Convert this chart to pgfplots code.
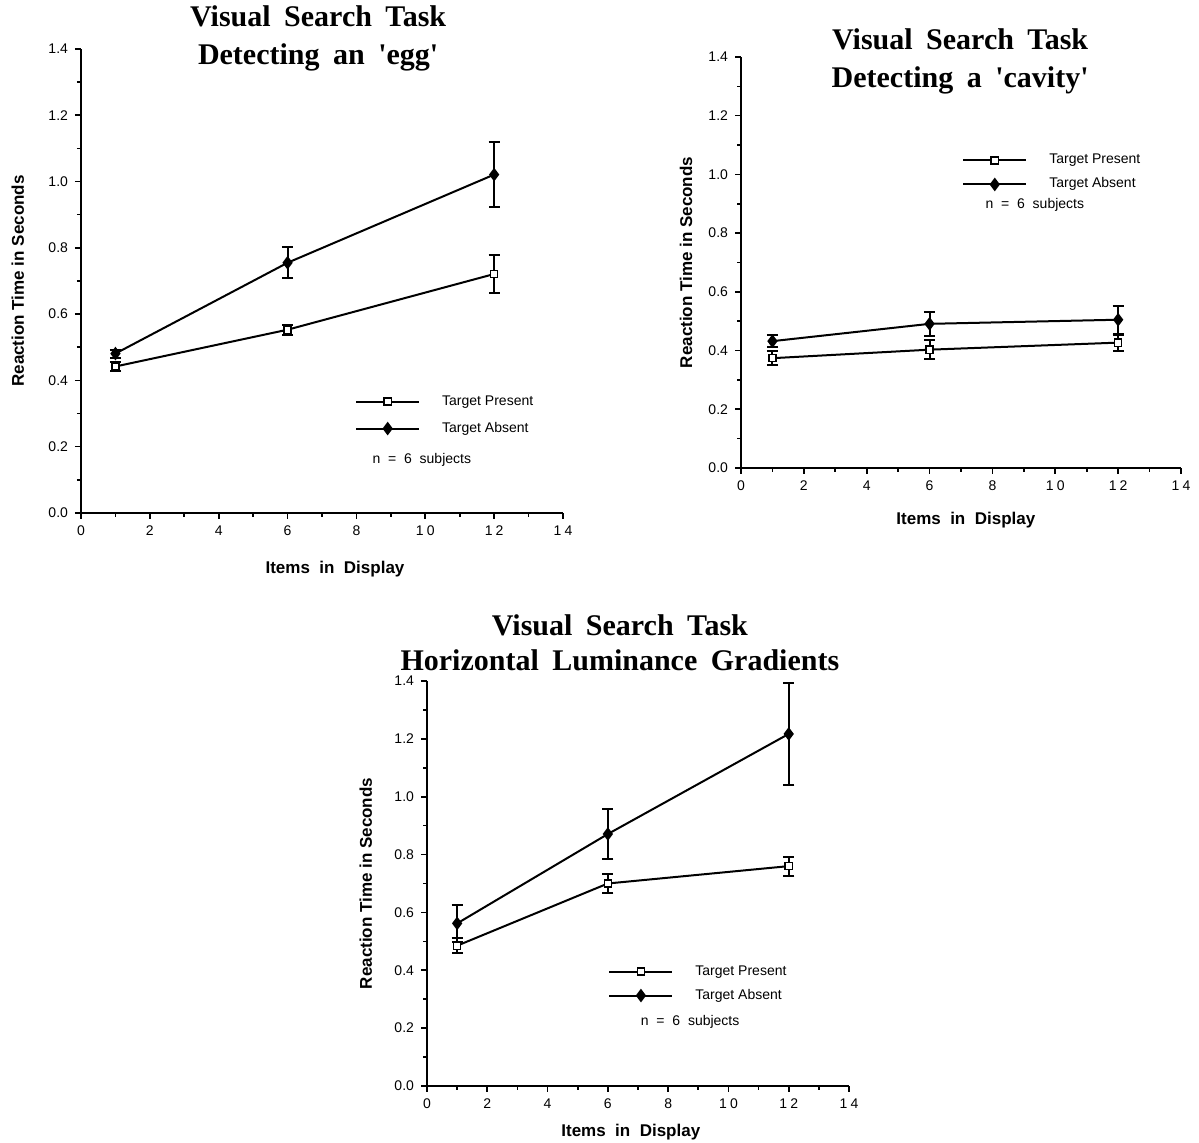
\documentclass[border=0pt]{standalone}
\usepackage{fontspec}
\setmainfont{Liberation Serif}
\setsansfont{Liberation Sans}
\usepackage{pgfplots}
\pgfplotsset{compat=1.18}
\usepackage{pgfplotstable}

\pgfplotstableread{
x y e
1 0.442 0.015
6 0.553 0.015
12 0.721 0.056
}\eggP
\pgfplotstableread{
x y e
1 0.481 0.012
6 0.755 0.047
12 1.021 0.097
}\eggA
\pgfplotstableread{
x y e
1 0.374 0.023
6 0.403 0.033
12 0.427 0.027
}\cavP
\pgfplotstableread{
x y e
1 0.432 0.020
6 0.491 0.041
12 0.505 0.048
}\cavA
\pgfplotstableread{
x y e
1 0.485 0.026
6 0.700 0.034
12 0.760 0.033
}\lumP
\pgfplotstableread{
x y e
1 0.562 0.063
6 0.871 0.088
12 1.217 0.177
}\lumA

\newcommand{\tlfont}{\sffamily\fontsize{7}{8}\selectfont}
\newcommand{\ws}{\hspace{0.45em}}
\newcommand{\ds}{\hspace{1.6pt}}
\pgfplotsset{
 vs/.style={
  scale only axis, anchor=south west, clip=false,
  xmin=0, xmax=14, ymin=0, ymax=1.4,
  axis lines*=left, axis line style={line width=1.1pt,-},
  xtick={0,2,4,6,8,10,12,14},
  xticklabels={0,2,4,6,8,1\ds0,1\ds2,1\ds4},
  ytick={0,0.2,0.4,0.6,0.8,1.0,1.2,1.4},
  minor x tick num=1, minor y tick num=1,
  tick align=outside, major tick length=3pt, minor tick length=2pt,
  tick style={line width=0.8pt,black},
  yticklabel style={/pgf/number format/.cd,fixed,fixed zerofill,precision=1},
  ticklabel style={font=\tlfont},
  /pgf/number format/assume math mode=true,
  label style={font=\sffamily\bfseries\fontsize{8.5}{10}\selectfont},
  title style={font=\bfseries\fontsize{15}{19}\selectfont, align=center, anchor=center},
  legend style={draw=none, fill=none, font=\tlfont, inner sep=0pt,
    nodes={inner sep=0pt, text height=5pt, text depth=1.5pt},
    anchor=north west, column sep=11pt},
  legend cell align=left,
  legend image code/.code={\draw[mark repeat=2,mark phase=2] plot coordinates {(0pt,0pt) (15.75pt,0pt) (31.5pt,0pt)};},
 },
 pres/.style={black, line width=1pt, mark=square*, mark size=1.8pt,
   mark options={fill=white, line width=0.7pt, solid},
   /pgfplots/error bars/y dir=both, /pgfplots/error bars/y explicit,
   /pgfplots/error bars/error bar style={line width=1pt},
   /pgfplots/error bars/error mark options={rotate=90, line width=1pt, mark size=2.8pt}},
 abs/.style={black, line width=1pt, mark=diamond*, mark size=2.6pt,
   mark options={fill=black, solid},
   /pgfplots/error bars/y dir=both, /pgfplots/error bars/y explicit,
   /pgfplots/error bars/error bar style={line width=1pt},
   /pgfplots/error bars/error mark options={rotate=90, line width=1pt, mark size=2.8pt}},
}

\begin{document}
\begin{tikzpicture}
\path[use as bounding box] (0,0) rectangle (599.5pt,571.5pt);

% Plot 1
\begin{axis}[vs, at={(40.5pt,315pt)}, width=241pt, height=232pt,
  title={Visual\ws Search\ws Task\\Detecting\ws an\ws \textquotesingle egg\textquotesingle},
  title style={at={(axis description cs:0.492,0.996)}},
  xlabel={Items\ \ in\ \ Display}, ylabel={Reaction\ Time\ in\ Seconds},
  xlabel style={at={(axis description cs:0.527,-0.121)}, anchor=center},
  ylabel style={at={(axis description cs:-0.131,0.5)}, anchor=center},
  legend style={at={(rel axis cs:0.568,0.255)}, row sep=7pt},
]
\addplot[pres] table[x=x,y=y,y error=e] {\eggP};
\addplot[abs] table[x=x,y=y,y error=e] {\eggA};
\legend{Target Present, Target Absent}
\node[font=\tlfont] at (axis cs:9.9,0.16) {n\ \ =\ \ 6\ \ subjects};
\end{axis}

% Plot 2
\begin{axis}[vs, at={(370.5pt,337.5pt)}, width=220pt, height=205.5pt,
  title={Visual\ws Search\ws Task\\Detecting\ws a\ws \textquotesingle cavity\textquotesingle},
  title style={at={(axis description cs:0.498,0.961)}},
  xlabel={Items\ \ in\ \ Display}, ylabel={Reaction\ Time\ in\ Seconds},
  xlabel style={at={(axis description cs:0.511,-0.127)}, anchor=center},
  ylabel style={at={(axis description cs:-0.125,0.5)}, anchor=center},
  legend style={at={(rel axis cs:0.502,0.765)}, row sep=5.5pt},
]
\addplot[pres] table[x=x,y=y,y error=e] {\cavP};
\addplot[abs] table[x=x,y=y,y error=e] {\cavA};
\legend{Target Present, Target Absent}
\node[font=\tlfont] at (axis cs:9.35,0.896) {n\ \ =\ \ 6\ \ subjects};
\end{axis}

% Plot 3
\begin{axis}[vs, at={(213.5pt,28.5pt)}, width=211pt, height=202.5pt,
  title={Visual\ws Search\ws Task\\Horizontal\ws Luminance\ws Gradients},
  title style={at={(axis description cs:0.457,1.064)}, font=\bfseries\fontsize{15}{17.5}\selectfont},
  xlabel={Items\ \ in\ \ Display}, ylabel={Reaction\ Time\ in\ Seconds},
  xlabel style={at={(axis description cs:0.483,-0.114)}, anchor=center},
  ylabel style={at={(axis description cs:-0.145,0.5)}, anchor=center},
  legend style={at={(rel axis cs:0.429,0.2996)}, row sep=5.5pt},
]
\addplot[pres] table[x=x,y=y,y error=e] {\lumP};
\addplot[abs] table[x=x,y=y,y error=e] {\lumA};
\legend{Target Present, Target Absent}
\node[font=\tlfont] at (axis cs:8.73,0.221) {n\ \ =\ \ 6\ \ subjects};
\end{axis}
\end{tikzpicture}
\end{document}
